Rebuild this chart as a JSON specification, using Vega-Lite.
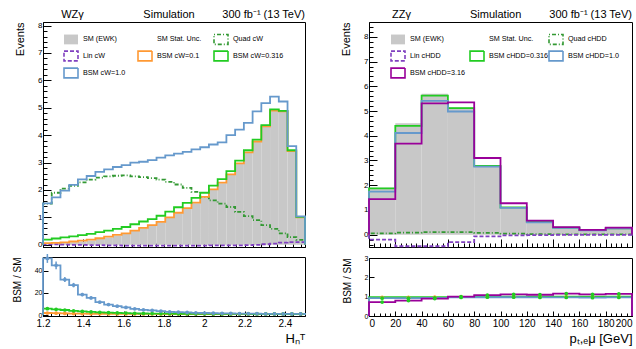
{
  "$schema": "https://vega.github.io/schema/vega-lite/v6.json",
  "background": "white",
  "padding": {"left": 11, "top": 8, "right": 0, "bottom": 0},
  "config": {
    "font": "Liberation Sans",
    "view": {"stroke": "black", "strokeWidth": 1},
    "axis": {"grid": false, "labelOverlap": false, "domainColor": "black", "domainWidth": 1, "tickColor": "black", "labelColor": "black", "titleColor": "black", "titleFontWeight": "normal", "labelFont": "Liberation Sans", "titleFont": "Liberation Sans"},
    "legend": {"orient": "none", "direction": "horizontal", "columns": 3, "gridAlign": "each", "columnPadding": 8, "rowPadding": -2, "symbolType": "M-1,-0.7H1V0.7H-1Z", "symbolSize": 196, "symbolStrokeWidth": 1.6, "labelFontSize": 7.2, "labelFont": "Liberation Sans", "labelColor": "black", "labelOffset": 4, "padding": 0, "symbolFillColor": "transparent"}
  },
  "datasets": {
    "L": [
      {"o":0,"x":1.2,"sm":0,"l":0,"q":0,"a":0,"b":0,"c":0,"ra":0,"rb":0,"rc":0},
      {"o":1,"x":1.2,"xc":1.22167,"sm":0.03,"l":0.02,"q":1.5,"a":0.06,"b":0.19,"c":1.51,"ra":1.9,"rb":5.8,"rc":51,"ec":4},
      {"o":2,"x":1.24333,"xc":1.265,"sm":0.04,"l":0.02,"q":1.9,"a":0.07,"b":0.23,"c":1.73,"ra":1.7,"rb":5.2,"rc":44.8,"ec":3.5},
      {"o":3,"x":1.28667,"xc":1.30833,"sm":0.06,"l":0.01,"q":2.05,"a":0.09,"b":0.27,"c":1.98,"ra":1.5,"rb":4.6,"rc":32,"ec":2.2},
      {"o":4,"x":1.33,"xc":1.35167,"sm":0.09,"l":0.0,"q":2.15,"a":0.12,"b":0.31,"c":2.19,"ra":1.4,"rb":3.9,"rc":27,"ec":2},
      {"o":5,"x":1.37333,"xc":1.395,"sm":0.12,"l":0.0,"q":2.28,"a":0.15,"b":0.35,"c":2.39,"ra":1.3,"rb":3.3,"rc":18.5,"ec":1.5},
      {"o":6,"x":1.41667,"xc":1.43833,"sm":0.16,"l":-0.01,"q":2.38,"a":0.19,"b":0.40,"c":2.51,"ra":1.2,"rb":2.9,"rc":15.5,"ec":1.2},
      {"o":7,"x":1.46,"xc":1.48167,"sm":0.21,"l":-0.01,"q":2.45,"a":0.24,"b":0.46,"c":2.66,"ra":1.15,"rb":2.5,"rc":11.6,"ec":0.8},
      {"o":8,"x":1.50333,"xc":1.525,"sm":0.27,"l":-0.02,"q":2.5,"a":0.30,"b":0.52,"c":2.75,"ra":1.1,"rb":2.2,"rc":9.5,"ec":0.6},
      {"o":9,"x":1.54667,"xc":1.56833,"sm":0.33,"l":-0.02,"q":2.52,"a":0.36,"b":0.58,"c":2.84,"ra":1.08,"rb":2.0,"rc":8,"ec":0.5},
      {"o":10,"x":1.59,"xc":1.61167,"sm":0.40,"l":-0.03,"q":2.53,"a":0.42,"b":0.65,"c":2.91,"ra":1.06,"rb":1.8,"rc":6.9,"ec":0.4},
      {"o":11,"x":1.63333,"xc":1.655,"sm":0.50,"l":-0.03,"q":2.5,"a":0.52,"b":0.75,"c":3.0,"ra":1.05,"rb":1.6,"rc":5.7,"ec":0.3},
      {"o":12,"x":1.67667,"xc":1.69833,"sm":0.60,"l":-0.03,"q":2.47,"a":0.62,"b":0.85,"c":3.03,"ra":1.04,"rb":1.45,"rc":4.8,"ec":0.3},
      {"o":13,"x":1.72,"xc":1.74167,"sm":0.70,"l":-0.03,"q":2.43,"a":0.72,"b":0.94,"c":3.09,"ra":1.03,"rb":1.38,"rc":4.2,"ec":0.2},
      {"o":14,"x":1.76333,"xc":1.785,"sm":0.82,"l":-0.03,"q":2.38,"a":0.84,"b":1.06,"c":3.18,"ra":1.02,"rb":1.3,"rc":3.6,"ec":0.2},
      {"o":15,"x":1.80667,"xc":1.82833,"sm":0.98,"l":-0.03,"q":2.3,"a":1.00,"b":1.21,"c":3.26,"ra":1.02,"rb":1.25,"rc":3.0,"ec":0.15},
      {"o":16,"x":1.85,"xc":1.87167,"sm":1.15,"l":-0.03,"q":2.2,"a":1.17,"b":1.37,"c":3.33,"ra":1.01,"rb":1.2,"rc":2.7,"ec":0.1},
      {"o":17,"x":1.89333,"xc":1.915,"sm":1.32,"l":-0.03,"q":2.08,"a":1.34,"b":1.53,"c":3.39,"ra":1.01,"rb":1.17,"rc":2.4,"ec":0.1},
      {"o":18,"x":1.93667,"xc":1.95833,"sm":1.52,"l":-0.03,"q":1.93,"a":1.54,"b":1.71,"c":3.48,"ra":1.01,"rb":1.14,"rc":2.1,"ec":0.1},
      {"o":19,"x":1.98,"xc":2.00167,"sm":1.73,"l":-0.03,"q":1.75,"a":1.75,"b":1.90,"c":3.56,"ra":1.01,"rb":1.12,"rc":1.9,"ec":0.1},
      {"o":20,"x":2.02333,"xc":2.045,"sm":2.0,"l":-0.02,"q":1.62,"a":2.02,"b":2.16,"c":3.66,"ra":1.0,"rb":1.1,"rc":1.75,"ec":0.1},
      {"o":21,"x":2.06667,"xc":2.08833,"sm":2.25,"l":-0.02,"q":1.5,"a":2.27,"b":2.40,"c":3.74,"ra":1.0,"rb":1.08,"rc":1.6,"ec":0.1},
      {"o":22,"x":2.11,"xc":2.13167,"sm":2.55,"l":-0.02,"q":1.38,"a":2.57,"b":2.69,"c":4.0,"ra":1.0,"rb":1.06,"rc":1.5,"ec":0.1},
      {"o":23,"x":2.15333,"xc":2.175,"sm":2.95,"l":-0.02,"q":1.2,"a":2.97,"b":3.07,"c":4.2,"ra":1.0,"rb":1.05,"rc":1.4,"ec":0.1},
      {"o":24,"x":2.19667,"xc":2.21833,"sm":3.35,"l":-0.01,"q":1.05,"a":3.37,"b":3.45,"c":4.45,"ra":1.0,"rb":1.03,"rc":1.3,"ec":0.1},
      {"o":25,"x":2.24,"xc":2.26167,"sm":3.75,"l":0.0,"q":0.9,"a":3.77,"b":3.84,"c":4.87,"ra":1.0,"rb":1.02,"rc":1.25,"ec":0.1},
      {"o":26,"x":2.28333,"xc":2.305,"sm":4.3,"l":0.02,"q":0.72,"a":4.32,"b":4.37,"c":5.17,"ra":1.0,"rb":1.01,"rc":1.2,"ec":0.1},
      {"o":27,"x":2.32667,"xc":2.34833,"sm":4.88,"l":0.04,"q":0.58,"a":4.90,"b":4.94,"c":5.41,"ra":1.0,"rb":1.01,"rc":1.12,"ec":0.1},
      {"o":28,"x":2.37,"xc":2.39167,"sm":4.85,"l":0.08,"q":0.42,"a":4.87,"b":4.89,"c":5.23,"ra":1.0,"rb":1.01,"rc":1.1,"ec":0.1},
      {"o":29,"x":2.41333,"xc":2.435,"sm":3.4,"l":0.1,"q":0.28,"a":3.42,"b":3.45,"c":3.6,"ra":1.0,"rb":1.01,"rc":1.07,"ec":0.1},
      {"o":30,"x":2.45667,"xc":2.47833,"sm":0.98,"l":0.1,"q":0.18,"a":1.0,"b":1.02,"c":1.04,"ra":1.0,"rb":1.01,"rc":1.05,"ec":0.1},
      {"o":31,"x":2.5,"sm":0.98,"l":0.1,"q":0.18,"a":1.0,"b":1.02,"c":1.04,"ra":1.0,"rb":1.01,"rc":1.05},
      {"o":32,"x":2.5,"sm":0,"l":0,"q":0,"a":0,"b":0,"c":0,"ra":0,"rb":0,"rc":0}
    ],
    "R": [
      {"o":0,"x":0,"sm":0,"l":0,"q":0,"g":0,"b":0,"p":0,"rg":0,"rb":0,"rp":0},
      {"o":1,"x":0,"xc":10,"sm":1.9,"l":-0.2,"q":0.05,"g":1.87,"b":1.74,"p":1.44,"rg":0.97,"rb":0.92,"rp":0.72},
      {"o":2,"x":20,"xc":30,"sm":4.5,"l":-0.47,"q":0.08,"g":4.4,"b":4.11,"p":3.68,"rg":0.97,"rb":0.92,"rp":0.8},
      {"o":3,"x":40,"xc":50,"sm":5.7,"l":-0.47,"q":0.1,"g":5.62,"b":5.41,"p":5.31,"rg":0.98,"rb":0.94,"rp":0.9},
      {"o":4,"x":60,"xc":70,"sm":5.15,"l":-0.3,"q":0.1,"g":5.12,"b":4.98,"p":5.35,"rg":0.99,"rb":0.96,"rp":1.0},
      {"o":5,"x":80,"xc":90,"sm":2.78,"l":-0.07,"q":0.07,"g":2.78,"b":2.75,"p":3.1,"rg":1.0,"rb":0.97,"rp":1.08},
      {"o":6,"x":100,"xc":110,"sm":1.1,"l":-0.03,"q":0.04,"g":1.1,"b":1.08,"p":1.27,"rg":1.0,"rb":0.97,"rp":1.12},
      {"o":7,"x":120,"xc":130,"sm":0.52,"l":-0.02,"q":0.02,"g":0.52,"b":0.5,"p":0.57,"rg":1.0,"rb":0.96,"rp":1.1},
      {"o":8,"x":140,"xc":150,"sm":0.28,"l":-0.01,"q":0.01,"g":0.28,"b":0.27,"p":0.3,"rg":1.0,"rb":0.96,"rp":1.16},
      {"o":9,"x":160,"xc":170,"sm":0.18,"l":-0.01,"q":0.01,"g":0.18,"b":0.17,"p":0.19,"rg":1.0,"rb":0.95,"rp":1.12},
      {"o":10,"x":180,"xc":190,"sm":0.25,"l":-0.01,"q":0.01,"g":0.25,"b":0.25,"p":0.28,"rg":1.0,"rb":0.96,"rp":1.14},
      {"o":11,"x":200,"sm":0.25,"l":-0.01,"q":0.01,"g":0.25,"b":0.25,"p":0.28,"rg":1.0,"rb":0.96,"rp":1.14},
      {"o":12,"x":200,"sm":0,"l":0,"q":0,"g":0,"b":0,"p":0,"rg":0,"rb":0,"rp":0}
    ]
  },
  "spacing": 30,
  "resolve": {"scale": {"x": "independent", "y": "independent", "stroke": "independent", "strokeDash": "independent"}},
  "hconcat": [
    {
      "spacing": 2,
      "resolve": {"scale": {"x": "independent", "y": "independent", "stroke": "independent", "strokeDash": "independent"}},
      "vconcat": [
        {
          "width": 262, "height": 225,
          "resolve": {"axis": {"y": "independent", "x": "independent"}},
          "layer": [
            {
              "data": {"name": "L"},
              "mark": {"type": "area", "interpolate": "step-after", "color": "#c8c8c8"},
              "encoding": {
                "x": {"field": "x", "type": "quantitative", "scale": {"domain": [1.2, 2.5], "nice": false, "zero": false},
                      "axis": {"orient": "bottom", "values": [1.2, 1.4, 1.6, 1.8, 2.0, 2.2, 2.4], "tickCount": 500, "labels": false, "tickSize": -8, "title": null}},
                "y": {"field": "sm", "type": "quantitative", "scale": {"domain": [-0.08, 8.13], "nice": false, "zero": false},
                      "axis": {"orient": "left", "values": [0, 1, 2, 3, 4, 5, 6, 7, 8], "format": "d", "tickCount": 500, "labelOverlap": false, "tickSize": -8, "labelPadding": 9, "labelFontSize": 8, "title": "Events", "titleAnchor": "end", "titleFontSize": 11, "titlePadding": 12}},
                "order": {"field": "o"}
              }
            },
            {
              "data": {"name": "L"},
              "transform": [{"fold": ["q", "l", "a", "b", "c"], "as": ["s", "v"]}],
              "mark": {"type": "line", "interpolate": "step-after", "strokeWidth": 1.8},
              "encoding": {
                "x": {"field": "x", "type": "quantitative",
                      "axis": {"orient": "bottom", "values": [1.24,1.28,1.32,1.36,1.44,1.48,1.52,1.56,1.64,1.68,1.72,1.76,1.84,1.88,1.92,1.96,2.04,2.08,2.12,2.16,2.24,2.28,2.32,2.36,2.44,2.48], "tickCount": 500, "labels": false, "domain": false, "tickSize": -4, "title": null}},
                "y": {"field": "v", "type": "quantitative",
                      "axis": {"orient": "left", "values": [0.2,0.4,0.6,0.8,1.2,1.4,1.6,1.8,2.2,2.4,2.6,2.8,3.2,3.4,3.6,3.8,4.2,4.4,4.6,4.8,5.2,5.4,5.6,5.8,6.2,6.4,6.6,6.8,7.2,7.4,7.6,7.8], "tickCount": 500, "labels": false, "domain": false, "tickSize": -4, "title": null}},
                "order": {"field": "o"},
                "stroke": {"field": "s", "type": "nominal",
                  "scale": {"domain": ["sm", "u", "q", "l", "a", "b", "c"], "range": ["transparent", "transparent", "#339933", "#8040c0", "#ff9933", "#22cc22", "#6699cc"]},
                  "legend": {"legendX": 20, "legendY": 9, "title": null, "columnPadding": 8,
                    "labelExpr": "datum.value == 'sm' ? 'SM (EWK)' : datum.value == 'u' ? 'SM Stat. Unc.' : datum.value == 'q' ? 'Quad cW' : datum.value == 'l' ? 'Lin cW' : datum.value == 'a' ? 'BSM cW=0.1' : datum.value == 'b' ? 'BSM cW=0.316' : 'BSM cW=1.0'",
                    "encode": {"symbols": {"update": {"fill": [{"test": "datum.value == 'sm'", "value": "#c8c8c8"}, {"value": "transparent"}]}}}}},
                "strokeDash": {"field": "s", "type": "nominal",
                  "scale": {"domain": ["sm", "u", "q", "l", "a", "b", "c"], "range": [[1, 0], [1, 0], [1, 2, 4, 2], [4, 2], [1, 0], [1, 0], [1, 0]]},
                  "legend": {"legendX": 20, "legendY": 9, "title": null, "columnPadding": 8,
                    "labelExpr": "datum.value == 'sm' ? 'SM (EWK)' : datum.value == 'u' ? 'SM Stat. Unc.' : datum.value == 'q' ? 'Quad cW' : datum.value == 'l' ? 'Lin cW' : datum.value == 'a' ? 'BSM cW=0.1' : datum.value == 'b' ? 'BSM cW=0.316' : 'BSM cW=1.0'",
                    "encode": {"symbols": {"update": {"fill": [{"test": "datum.value == 'sm'", "value": "#c8c8c8"}, {"value": "transparent"}]}}}}}
              }
            },
            {
              "data": {"values": [{}]},
              "mark": {"type": "text", "align": "left", "baseline": "alphabetic", "fontSize": 11, "dy": -4, "color": "black"},
              "encoding": {"x": {"datum": 1.29, "axis": null}, "y": {"datum": 8.13, "axis": null}, "text": {"value": "WZγ"}}
            },
            {
              "data": {"values": [{}]},
              "mark": {"type": "text", "align": "left", "baseline": "alphabetic", "fontSize": 11, "dy": -4, "color": "black"},
              "encoding": {"x": {"datum": 1.698, "axis": null}, "y": {"datum": 8.13, "axis": null}, "text": {"value": "Simulation"}}
            },
            {
              "data": {"values": [{}]},
              "mark": {"type": "text", "align": "right", "baseline": "alphabetic", "fontSize": 11, "dy": -4, "color": "black"},
              "encoding": {"x": {"datum": 2.5, "axis": null}, "y": {"datum": 8.13, "axis": null}, "text": {"value": "300 fb⁻¹ (13 TeV)"}}
            }
          ]
        },
        {
          "width": 262, "height": 59,
          "resolve": {"axis": {"x": "independent"}},
          "layer": [
            {
              "data": {"name": "L"},
              "transform": [{"fold": ["ra", "rb", "rc"], "as": ["s", "v"]}],
              "mark": {"type": "line", "interpolate": "step-after", "strokeWidth": 1.8},
              "encoding": {
                "x": {"field": "x", "type": "quantitative", "scale": {"domain": [1.2, 2.5], "nice": false, "zero": false},
                      "axis": {"orient": "bottom", "values": [1.2, 1.4, 1.6, 1.8, 2.0, 2.2, 2.4], "tickCount": 500, "format": "~g", "labelOverlap": false, "tickSize": -5, "labelPadding": 7, "labelFontSize": 10, "labelFlush": false, "title": "Hₙᵀ", "titleAnchor": "end", "titleFontSize": 13, "titlePadding": 4}},
                "y": {"field": "v", "type": "quantitative", "scale": {"domain": [-0.8, 52.3], "nice": false, "zero": false},
                      "axis": {"values": [0, 20, 40], "format": "d", "tickCount": 500, "labelOverlap": false, "tickSize": -5, "labelPadding": 6, "labelFontSize": 7, "title": "BSM / SM", "titleAnchor": "end", "titleFontSize": 10, "titlePadding": 12}},
                "order": {"field": "o"},
                "stroke": {"field": "s", "type": "nominal", "scale": {"domain": ["ra", "rb", "rc"], "range": ["#ff9933", "#22cc22", "#6699cc"]}, "legend": null}
              }
            },
            {
              "data": {"name": "L"},
              "transform": [{"filter": "datum.o >= 1 && datum.o <= 30"}, {"fold": ["ra", "rb", "rc"], "as": ["s", "v"]}],
              "mark": {"type": "point", "filled": true, "size": 14, "opacity": 1},
              "encoding": {
                "x": {"field": "xc", "type": "quantitative",
                      "axis": {"orient": "bottom", "values": [1.24,1.28,1.32,1.36,1.44,1.48,1.52,1.56,1.64,1.68,1.72,1.76,1.84,1.88,1.92,1.96,2.04,2.08,2.12,2.16,2.24,2.28,2.32,2.36,2.44,2.48], "tickCount": 500, "labels": false, "domain": false, "tickSize": -3, "title": null}},
                "y": {"field": "v", "type": "quantitative", "title": "BSM / SM"},
                "color": {"field": "s", "type": "nominal", "scale": {"domain": ["ra", "rb", "rc"], "range": ["#ff9933", "#22cc22", "#6699cc"]}, "legend": null}
              }
            },
            {
              "data": {"name": "L"},
              "transform": [{"filter": "datum.o >= 1 && datum.o <= 30"}],
              "mark": {"type": "errorbar", "color": "#6699cc", "thickness": 1.5},
              "encoding": {
                "x": {"field": "xc", "type": "quantitative", "axis": null},
                "y": {"field": "rc", "type": "quantitative", "title": "BSM / SM"},
                "yError": {"field": "ec"}
              }
            }
          ]
        }
      ]
    },
    {
      "spacing": 2,
      "resolve": {"scale": {"x": "independent", "y": "independent", "stroke": "independent", "strokeDash": "independent"}},
      "vconcat": [
        {
          "width": 263, "height": 225,
          "resolve": {"axis": {"y": "independent", "x": "independent"}},
          "layer": [
            {
              "data": {"name": "R"},
              "mark": {"type": "area", "interpolate": "step-after", "color": "#c8c8c8"},
              "encoding": {
                "x": {"field": "x", "type": "quantitative", "scale": {"domain": [0, 200], "nice": false, "zero": false},
                      "axis": {"orient": "bottom", "values": [0, 20, 40, 60, 80, 100, 120, 140, 160, 180, 200], "tickCount": 500, "labels": false, "tickSize": -8, "title": null}},
                "y": {"field": "sm", "type": "quantitative", "scale": {"domain": [-0.5, 8.6], "nice": false, "zero": false},
                      "axis": {"orient": "left", "values": [0, 1, 2, 3, 4, 5, 6, 7, 8], "format": "d", "tickCount": 500, "labelOverlap": false, "tickSize": -8, "labelPadding": 9, "labelFontSize": 8, "title": "Events", "titleAnchor": "end", "titleFontSize": 11, "titlePadding": 12}},
                "order": {"field": "o"}
              }
            },
            {
              "data": {"name": "R"},
              "transform": [{"fold": ["q", "l", "g", "b", "p"], "as": ["s", "v"]}],
              "mark": {"type": "line", "interpolate": "step-after", "strokeWidth": 1.8},
              "encoding": {
                "x": {"field": "x", "type": "quantitative",
                      "axis": {"orient": "bottom", "values": [4,8,12,16,24,28,32,36,44,48,52,56,64,68,72,76,84,88,92,96,104,108,112,116,124,128,132,136,144,148,152,156,164,168,172,176,184,188,192,196], "tickCount": 500, "labels": false, "domain": false, "tickSize": -4, "title": null}},
                "y": {"field": "v", "type": "quantitative",
                      "axis": {"orient": "left", "values": [-0.4,-0.2,0.2,0.4,0.6,0.8,1.2,1.4,1.6,1.8,2.2,2.4,2.6,2.8,3.2,3.4,3.6,3.8,4.2,4.4,4.6,4.8,5.2,5.4,5.6,5.8,6.2,6.4,6.6,6.8,7.2,7.4,7.6,7.8,8.2,8.4], "tickCount": 500, "labels": false, "domain": false, "tickSize": -4, "title": null}},
                "order": {"field": "o"},
                "stroke": {"field": "s", "type": "nominal",
                  "scale": {"domain": ["sm", "u", "q", "l", "g", "b", "p"], "range": ["transparent", "transparent", "#339933", "#8040c0", "#22cc22", "#6699cc", "#990099"]},
                  "legend": {"legendX": 21, "legendY": 9, "title": null, "gridAlign": "all", "columnPadding": -17,
                    "labelExpr": "datum.value == 'sm' ? 'SM (EWK)' : datum.value == 'u' ? 'SM Stat. Unc.' : datum.value == 'q' ? 'Quad cHDD' : datum.value == 'l' ? 'Lin cHDD' : datum.value == 'g' ? 'BSM cHDD=0.316' : datum.value == 'b' ? 'BSM cHDD=1.0' : 'BSM cHDD=3.16'",
                    "encode": {"symbols": {"update": {"fill": [{"test": "datum.value == 'sm'", "value": "#c8c8c8"}, {"value": "transparent"}]}}}}},
                "strokeDash": {"field": "s", "type": "nominal",
                  "scale": {"domain": ["sm", "u", "q", "l", "g", "b", "p"], "range": [[1, 0], [1, 0], [1, 2, 4, 2], [4, 2], [1, 0], [1, 0], [1, 0]]},
                  "legend": {"legendX": 21, "legendY": 9, "title": null, "gridAlign": "all", "columnPadding": -17,
                    "labelExpr": "datum.value == 'sm' ? 'SM (EWK)' : datum.value == 'u' ? 'SM Stat. Unc.' : datum.value == 'q' ? 'Quad cHDD' : datum.value == 'l' ? 'Lin cHDD' : datum.value == 'g' ? 'BSM cHDD=0.316' : datum.value == 'b' ? 'BSM cHDD=1.0' : 'BSM cHDD=3.16'",
                    "encode": {"symbols": {"update": {"fill": [{"test": "datum.value == 'sm'", "value": "#c8c8c8"}, {"value": "transparent"}]}}}}}
              }
            },
            {
              "data": {"values": [{}]},
              "mark": {"type": "text", "align": "left", "baseline": "alphabetic", "fontSize": 11, "dy": -4, "color": "black"},
              "encoding": {"x": {"datum": 17.5, "axis": null}, "y": {"datum": 8.6, "axis": null}, "text": {"value": "ZZγ"}}
            },
            {
              "data": {"values": [{}]},
              "mark": {"type": "text", "align": "left", "baseline": "alphabetic", "fontSize": 11, "dy": -4, "color": "black"},
              "encoding": {"x": {"datum": 76.8, "axis": null}, "y": {"datum": 8.6, "axis": null}, "text": {"value": "Simulation"}}
            },
            {
              "data": {"values": [{}]},
              "mark": {"type": "text", "align": "right", "baseline": "alphabetic", "fontSize": 11, "dy": -4, "color": "black"},
              "encoding": {"x": {"datum": 200, "axis": null}, "y": {"datum": 8.6, "axis": null}, "text": {"value": "300 fb⁻¹ (13 TeV)"}}
            }
          ]
        },
        {
          "width": 263, "height": 58,
          "resolve": {"axis": {"x": "independent"}},
          "layer": [
            {
              "data": {"name": "R"},
              "transform": [{"fold": ["rg", "rb", "rp"], "as": ["s", "v"]}],
              "mark": {"type": "line", "interpolate": "step-after", "strokeWidth": 1.8},
              "encoding": {
                "x": {"field": "x", "type": "quantitative", "scale": {"domain": [0, 200], "nice": false, "zero": false},
                      "axis": {"orient": "bottom", "values": [0, 20, 40, 60, 80, 100, 120, 140, 160, 180, 200], "format": "d", "tickCount": 500, "labelOverlap": false, "tickSize": -5, "labelPadding": 7, "labelFontSize": 10, "labelFlush": true, "title": "pₜ,ₑμ [GeV]", "titleAnchor": "end", "titleFontSize": 13, "titlePadding": 4}},
                "y": {"field": "v", "type": "quantitative", "scale": {"domain": [0, 3], "nice": false, "zero": false},
                      "axis": {"values": [0, 1, 2, 3], "format": "d", "tickCount": 500, "labelOverlap": false, "tickSize": -5, "labelPadding": 6, "labelFontSize": 7, "title": "BSM / SM", "titleAnchor": "end", "titleFontSize": 10, "titlePadding": 12}},
                "order": {"field": "o"},
                "stroke": {"field": "s", "type": "nominal", "scale": {"domain": ["rg", "rb", "rp"], "range": ["#22cc22", "#6699cc", "#990099"]}, "legend": null}
              }
            },
            {
              "data": {"name": "R"},
              "transform": [{"filter": "datum.o >= 1 && datum.o <= 10"}, {"fold": ["rg", "rb", "rp"], "as": ["s", "v"]}],
              "mark": {"type": "point", "filled": true, "size": 14, "opacity": 1},
              "encoding": {
                "x": {"field": "xc", "type": "quantitative",
                      "axis": {"orient": "bottom", "values": [4,8,12,16,24,28,32,36,44,48,52,56,64,68,72,76,84,88,92,96,104,108,112,116,124,128,132,136,144,148,152,156,164,168,172,176,184,188,192,196], "tickCount": 500, "labels": false, "domain": false, "tickSize": -3, "title": null}},
                "y": {"field": "v", "type": "quantitative", "title": "BSM / SM"},
                "color": {"field": "s", "type": "nominal", "scale": {"domain": ["rg", "rb", "rp"], "range": ["#22cc22", "#6699cc", "#990099"]}, "legend": null}
              }
            }
          ]
        }
      ]
    }
  ]
}
